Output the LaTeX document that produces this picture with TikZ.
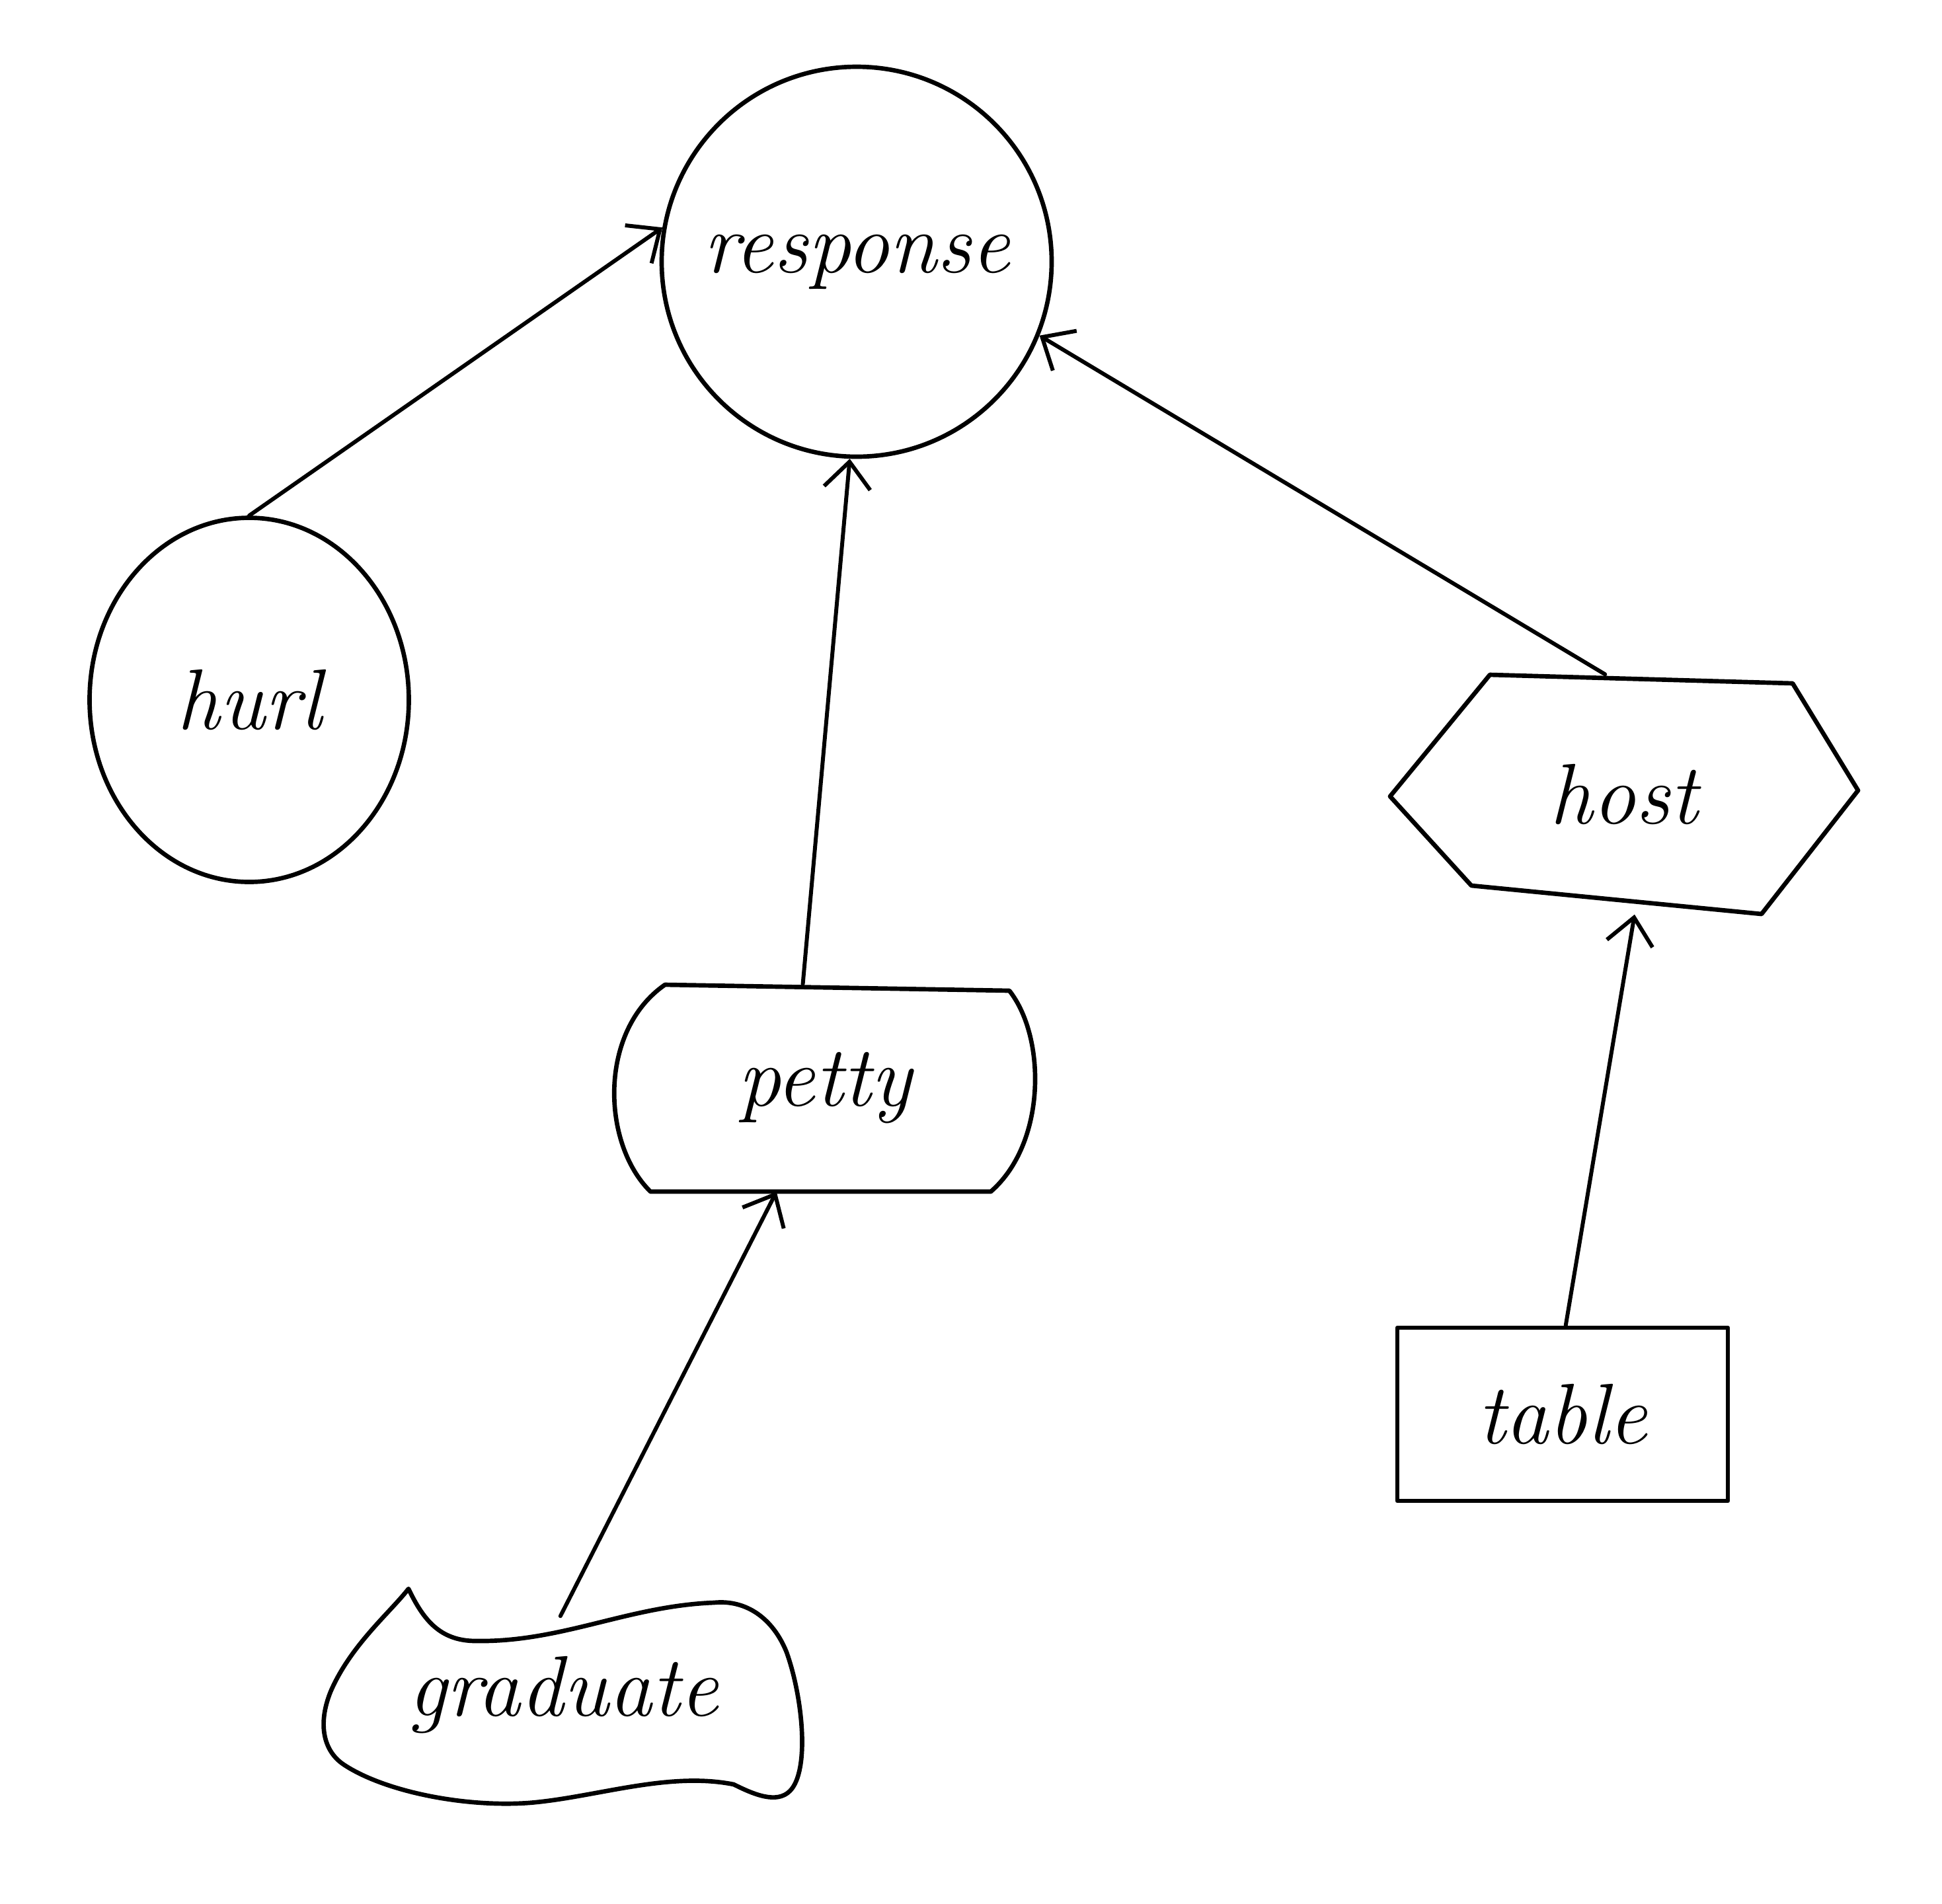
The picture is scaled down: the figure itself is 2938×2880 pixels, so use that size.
\documentclass[tikz,border=0pt]{standalone}
\usetikzlibrary{arrows.meta,shapes.geometric}
\begin{document}
\begin{tikzpicture}[x=0.1mm,y=-0.1mm,
  ink/.style={line width=1.9pt, draw=black, line join=round, line cap=round},
  lbl/.style={font=\fontsize{37}{44}\selectfont\itshape, inner sep=0pt},
  link/.style={line width=1.7pt, line cap=round, -{Straight Barb[length=4mm,width=7mm]}}]
\useasboundingbox (0,0) rectangle (2938,2880);
% nodes
\node[ink, circle, minimum size=59mm, lbl] (response) at (1296,396) {response};
\node[ink, ellipse, minimum width=48.3mm, minimum height=55.1mm, lbl] (hurl) at (377,1059) {hurl};
\node[lbl, minimum width=63.4mm, minimum height=31.3mm] (petty) at (1248,1646) {petty};
\node[lbl, minimum width=70.8mm, minimum height=36.2mm] (host) at (2457,1202) {host};
\node[ink, lbl, minimum width=50mm, minimum height=26.2mm] (table) at (2364,2140) {table};
\node[lbl, minimum width=72mm, minimum height=23.8mm] (graduate) at (852,2565) {graduate};
% outlines of custom shapes
\draw[ink] (1006,1490) -- (1527,1499)
  .. controls (1583,1570) and (1583,1730) .. (1499,1803)
  -- (984,1803)
  .. controls (910,1730) and (905,1560) .. (1006,1490) -- cycle;
\draw[ink] (2254,1021) -- (2712,1034) -- (2811,1196) -- (2665,1383)
  -- (2226,1340) -- (2103,1205) -- cycle;
\draw[ink] (618,2404) .. controls (640,2450) and (665,2483) .. (720,2483)
  .. controls (850,2485) and (950,2430) .. (1080,2425)
  .. controls (1130,2420) and (1170,2450) .. (1190,2500)
  .. controls (1215,2570) and (1225,2680) .. (1195,2710)
  .. controls (1175,2730) and (1140,2715) .. (1110,2700)
  .. controls (1010,2680) and (900,2720) .. (800,2728)
  .. controls (700,2735) and (580,2710) .. (520,2670)
  .. controls (490,2650) and (480,2610) .. (500,2560)
  .. controls (530,2490) and (590,2440) .. (618,2404) -- cycle;
% connectors
\draw[link] (hurl.north) -- (response.170);
\draw[link] (petty.102) -- (response.268);
\draw[link] (host.99) -- (response.-22);
\draw[link] (graduate.92) -- (petty.-115);
\draw[link] (table.88) -- (host.-85);
\end{tikzpicture}
\end{document}
